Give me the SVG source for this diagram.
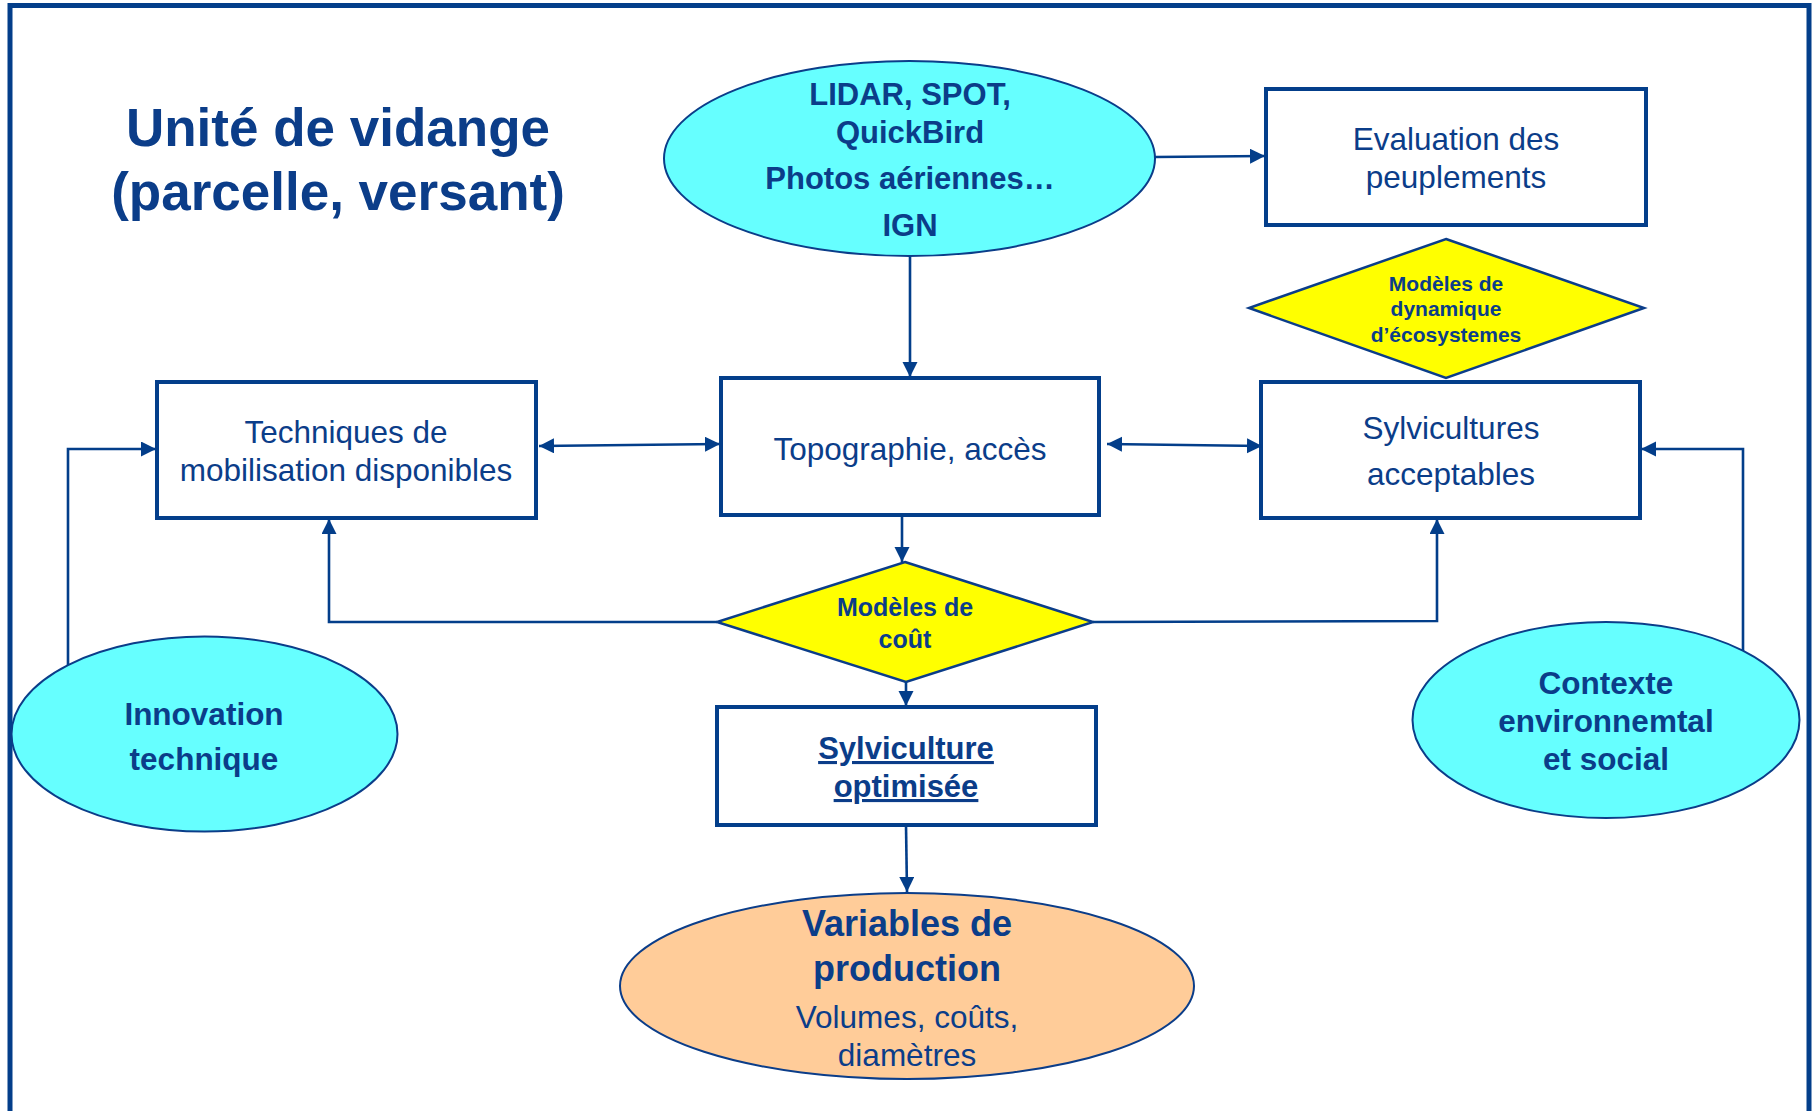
<svg xmlns="http://www.w3.org/2000/svg" width="1814" height="1111" viewBox="0 0 1814 1111">
<style>
text{font-family:"Liberation Sans",Arial,sans-serif;fill:#0B3D89;text-anchor:middle}
.b{font-weight:bold}
.box{fill:#fff;stroke:#033E8A;stroke-width:4}
.ell{stroke:#0B3D89;stroke-width:2}
.cy{fill:#66FFFF}
.dia{fill:#FFFF00;stroke:#0B3D89;stroke-width:2.5}
.con{fill:none;stroke:#033E8A;stroke-width:2.6}
.r{font-size:31.5px}
</style>
<defs>
<marker id="ah" markerWidth="16" markerHeight="16" refX="15" refY="7.5" orient="auto-start-reverse" markerUnits="userSpaceOnUse">
<path d="M0,0 L15,7.5 L0,15 z" fill="#033E8A"/>
</marker>
</defs>
<rect x="0" y="0" width="1814" height="1111" fill="#fff"/>
<rect x="10" y="5.5" width="1799" height="1130" fill="none" stroke="#033E8A" stroke-width="5"/>
<g id="title">
<text class="b" x="338" y="146" font-size="53">Unité de vidange</text>
<text class="b" x="338" y="210" font-size="53">(parcelle, versant)</text>
</g>
<g id="sources">
<ellipse class="ell cy" cx="909.5" cy="158.5" rx="245.5" ry="97.5"/>
<text class="b" x="910" y="105" font-size="31">LIDAR, SPOT,</text>
<text class="b" x="910" y="143" font-size="31">QuickBird</text>
<text class="b" x="910" y="189" font-size="31">Photos aériennes…</text>
<text class="b" x="910" y="236" font-size="31">IGN</text>
</g>
<g id="evaluation">
<rect class="box" x="1266" y="89" width="380" height="136"/>
<text class="r" x="1456" y="150">Evaluation des</text>
<text class="r" x="1456" y="188">peuplements</text>
</g>
<g id="dynamique">
<polygon class="dia" points="1446,239 1644,308 1446,378 1249,308"/>
<text class="b" x="1446" y="291" font-size="21">Modèles de</text>
<text class="b" x="1446" y="316" font-size="21">dynamique</text>
<text class="b" x="1446" y="342" font-size="21">d’écosystemes</text>
</g>
<g id="techniques">
<rect class="box" x="157" y="382" width="379" height="136"/>
<text class="r" x="346" y="443">Techniques de</text>
<text class="r" x="346" y="481">mobilisation disponibles</text>
</g>
<g id="topographie">
<rect class="box" x="721" y="378" width="378" height="137"/>
<text class="r" x="910" y="460">Topographie, accès</text>
</g>
<g id="sylvicultures">
<rect class="box" x="1261" y="382" width="379" height="136"/>
<text class="r" x="1451" y="439">Sylvicultures</text>
<text class="r" x="1451" y="485">acceptables</text>
</g>
<g id="cout">
<polygon class="dia" points="905,562 1093,622 906,682 717,622"/>
<text class="b" x="905" y="616" font-size="25">Modèles de</text>
<text class="b" x="905" y="648" font-size="25">coût</text>
</g>
<g id="optimisee">
<rect class="box" x="717" y="707" width="379" height="118"/>
<text class="b" x="906" y="759" font-size="31" text-decoration="underline">Sylviculture</text>
<text class="b" x="906" y="797" font-size="31" text-decoration="underline">optimisée</text>
</g>
<g id="innovation">
<ellipse class="ell cy" cx="204.5" cy="734" rx="193" ry="97.5"/>
<text class="b r" x="204" y="724.5">Innovation</text>
<text class="b r" x="204" y="770">technique</text>
</g>
<g id="contexte">
<ellipse class="ell cy" cx="1606" cy="720" rx="193.5" ry="98"/>
<text class="b r" x="1606" y="694">Contexte</text>
<text class="b r" x="1606" y="732">environnemtal</text>
<text class="b r" x="1606" y="770">et social</text>
</g>
<g id="variables">
<ellipse class="ell" fill="#FFCC99" cx="907" cy="986" rx="287" ry="93"/>
<text class="b" x="907" y="936" font-size="36">Variables de</text>
<text class="b" x="907" y="981" font-size="36">production</text>
<text class="r" x="907" y="1028">Volumes, coûts,</text>
<text class="r" x="907" y="1066">diamètres</text>
</g>
<g id="connectors">
<path class="con" d="M1155,157 L1265,156" marker-end="url(#ah)"/>
<path class="con" d="M910,256 L910,377" marker-end="url(#ah)"/>
<path class="con" d="M539,446 L720,444" marker-start="url(#ah)" marker-end="url(#ah)"/>
<path class="con" d="M1107,444 L1262,446" marker-start="url(#ah)" marker-end="url(#ah)"/>
<path class="con" d="M902,516 L902,562" marker-end="url(#ah)"/>
<path class="con" d="M717,622 L329,622 L329,519" marker-end="url(#ah)"/>
<path class="con" d="M1093,622 L1437,621 L1437,519" marker-end="url(#ah)"/>
<path class="con" d="M906,682 L906,706" marker-end="url(#ah)"/>
<path class="con" d="M906,825 L907,892" marker-end="url(#ah)"/>
<path class="con" d="M68,665 L68,449 L156,449" marker-end="url(#ah)"/>
<path class="con" d="M1743,651 L1743,449 L1641,449" marker-end="url(#ah)"/>
</g>
</svg>
